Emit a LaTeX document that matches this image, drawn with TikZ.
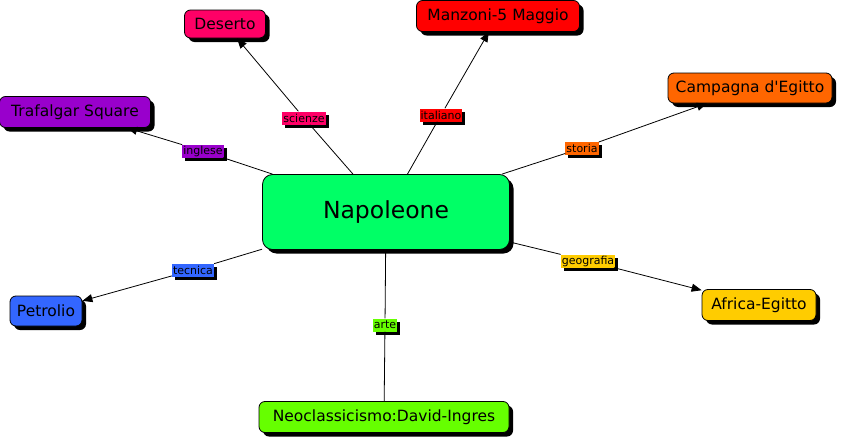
\documentclass[tikz,border=0pt]{standalone}
\usepackage{fontspec}
\setmainfont{DejaVu Sans}
\usepackage{tikz}
\usetikzlibrary{arrows.meta,shadows}

\definecolor{cnap}{HTML}{00FF66}
\definecolor{cdes}{HTML}{FF0066}
\definecolor{cman}{HTML}{FF0000}
\definecolor{ctra}{HTML}{9900CC}
\definecolor{ccam}{HTML}{FF6600}
\definecolor{cafr}{HTML}{FFCC00}
\definecolor{cpet}{HTML}{3366FF}
\definecolor{cneo}{HTML}{66FF00}

\begin{document}
\begin{tikzpicture}[
  x=1pt, y=-1pt,
  concept/.style={rectangle, draw, line width=0.8pt, rounded corners=6pt, minimum height=31pt,
    inner xsep=4pt, font=\fontsize{15.5}{17}\selectfont,
    drop shadow={shadow xshift=4pt, shadow yshift=-4pt, fill=black, opacity=1}},
  lbl/.style={rectangle, inner xsep=1pt, inner ysep=0.5pt, minimum height=13pt, font=\fontsize{11}{12}\selectfont,
    drop shadow={shadow xshift=3pt, shadow yshift=-3pt, fill=black, opacity=1}},
  link/.style={line width=0.8pt},
  >={Triangle[length=10pt,width=8pt]}
]
\useasboundingbox (0,0) rectangle (844,439);

% concetto centrale
\node[concept, fill=cnap, rounded corners=10pt, minimum width=247pt, minimum height=75pt,
  font=\fontsize{23.5}{28}\selectfont] (nap) at (386,212) {Napoleone};

% concetti collegati
\node[concept, fill=cdes, minimum width=81pt, minimum height=28pt] (des) at (225,24) {Deserto};
\node[concept, fill=cman, minimum width=163pt] (man) at (498,16) {Manzoni-5 Maggio};
\node[concept, fill=ctra, minimum width=151pt] (tra) at (75,112) {Trafalgar Square};
\node[concept, fill=ccam, minimum width=164pt, minimum height=30pt] (cam) at (750,88) {Campagna d\textquotesingle Egitto};
\node[concept, fill=cafr, minimum width=114pt] (afr) at (759,305) {Africa-Egitto};
\node[concept, fill=cpet, minimum width=72pt, minimum height=30pt] (pet) at (46,311) {Petrolio};
\node[concept, fill=cneo, minimum width=250pt] (neo) at (384,417) {Neoclassicismo:David-Ingres};

% etichette dei collegamenti
\node[lbl, fill=cdes] (lsci) at (304,118) {scienze};
\node[lbl, fill=cman] (lita) at (441,115) {italiano};
\node[lbl, fill=ctra] (ling) at (203,151) {inglese};
\node[lbl, fill=ccam] (lsto) at (582,148) {storia};
\node[lbl, fill=cafr] (lgeo) at (588,261) {geografia};
\node[lbl, fill=cpet] (ltec) at (193,270) {tecnica};
\node[lbl, fill=cneo] (lart) at (385,325) {arte};

% collegamenti
\foreach \l/\t in {lsci/des, lita/man, ling/tra, lsto/cam, lgeo/afr, ltec/pet} {
  \draw[link] (nap) -- (\l);
  \draw[link, ->] (\l) -- (\t);
}
\draw[link] (nap) -- (lart);
\draw[link] (lart) -- (neo);
\end{tikzpicture}
\end{document}
